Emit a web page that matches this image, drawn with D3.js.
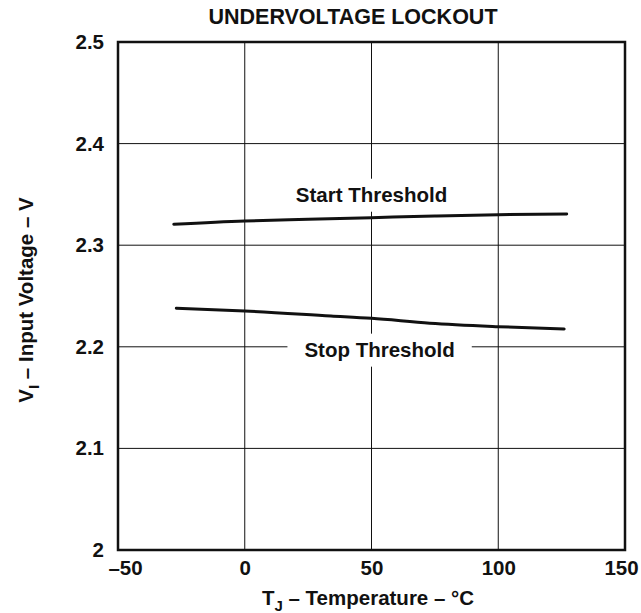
<!DOCTYPE html>
<html>
<head>
<meta charset="utf-8">
<script src="https://cdn.jsdelivr.net/npm/d3@7"></script>
<style>
  body { margin: 0; background: #fff; }
  text { font-family: Arial, "Liberation Sans", sans-serif; font-weight: bold; fill: #111; }
</style>
</head>
<body>
<div id="chart"></div>
<script>
// temperature (°C) and threshold voltage (V)
const startTemp = [-28, 0, 25, 50, 75, 100, 127];
const startVolt = [2.3206, 2.3238, 2.3255, 2.3271, 2.3287, 2.3300, 2.3307];
const stopTemp = [-27, 0, 34, 50, 73, 100, 126];
const stopVolt = [2.2379, 2.2352, 2.2303, 2.2280, 2.2232, 2.2198, 2.2175];

const xTicks = [-50, 0, 50, 100, 150];
const yTicks = [2, 2.1, 2.2, 2.3, 2.4, 2.5];

const margin = {top: 42, right: 16, bottom: 63, left: 118},
    width = 641 - margin.left - margin.right,
    height = 613 - margin.top - margin.bottom;

const FONT = "Arial, 'Liberation Sans', sans-serif";

const svg = d3.select("#chart")
    .append("svg")
    .attr("width", 641)
    .attr("height", 613)
    .append("g")
    .attr("transform", "translate(" + margin.left + "," + margin.top + ")");

const x = d3.scaleLinear().domain([-50, 150]).range([0, width]);
const y = d3.scaleLinear().domain([2, 2.5]).range([height, 0]);

// grid
svg.append("g")
    .selectAll("line")
    .data(xTicks.slice(1, -1))
    .enter().append("line")
    .attr("x1", d => x(d)).attr("x2", d => x(d))
    .attr("y1", 0).attr("y2", height)
    .attr("stroke", "#111").attr("stroke-width", 1);

svg.append("g")
    .selectAll("line")
    .data(yTicks.slice(1, -1))
    .enter().append("line")
    .attr("x1", 0).attr("x2", width)
    .attr("y1", d => y(d)).attr("y2", d => y(d))
    .attr("stroke", "#111").attr("stroke-width", 1);

// x axis labels (first one nudged right, last one left so it stays on the page)
svg.append("g")
    .attr("transform", "translate(0," + height + ")")
    .call(d3.axisBottom(x).tickValues(xTicks).tickSize(0).tickPadding(10)
        .tickFormat(d => d < 0 ? "\u2013" + Math.abs(d) : d))
    .call(g => g.select(".domain").remove())
    .selectAll("text")
    .attr("dx", d => d < 0 ? 7 : (d === 150 ? -4 : 0))
    .style("font-size", "20.5px")
    .style("font-family", FONT)
    .style("font-weight", "bold")
    .attr("fill", "#111");

// y axis labels
svg.append("g")
    .call(d3.axisLeft(y).tickValues(yTicks).tickSize(0).tickPadding(14)
        .tickFormat(d => d === 2 ? "2" : d3.format(".1f")(d)))
    .call(g => g.select(".domain").remove())
    .selectAll("text")
    .style("font-size", "20.5px")
    .style("font-family", FONT)
    .style("font-weight", "bold")
    .attr("fill", "#111");

const line = d3.line()
    .x(d => x(d[0]))
    .y(d => y(d[1]))
    .curve(d3.curveMonotoneX);

svg.append("path")
    .datum(startTemp.map((t, i) => [t, startVolt[i]]))
    .attr("d", line)
    .attr("fill", "none")
    .attr("stroke", "#111")
    .attr("stroke-width", 3)
    .attr("stroke-linecap", "round");

svg.append("path")
    .datum(stopTemp.map((t, i) => [t, stopVolt[i]]))
    .attr("d", line)
    .attr("fill", "none")
    .attr("stroke", "#111")
    .attr("stroke-width", 3)
    .attr("stroke-linecap", "round");

// curve labels, white box behind so gridlines break around them
function curveLabel(txt, t, v) {
    const g = svg.append("g");
    const tx = g.append("text")
        .attr("x", x(t))
        .attr("y", y(v))
        .attr("text-anchor", "middle")
        .style("font-size", "20.5px")
        .text(txt);
    const bb = tx.node().getBBox();
    g.insert("rect", "text")
        .attr("x", bb.x - 17)
        .attr("y", bb.y - 4)
        .attr("width", bb.width + 34)
        .attr("height", bb.height + 10)
        .attr("fill", "#fff");
}
curveLabel("Start Threshold", 50, 2.3428);
curveLabel("Stop Threshold", 53.2, 2.1903);

// frame
svg.append("rect")
    .attr("width", width)
    .attr("height", height)
    .attr("fill", "none")
    .attr("stroke", "#111")
    .attr("stroke-width", 2.5);

// title
svg.append("text")
    .attr("x", 353 - margin.left)
    .attr("y", -18)
    .attr("text-anchor", "middle")
    .style("font-size", "21.5px")
    .text("UNDERVOLTAGE LOCKOUT");

// x axis title
const xt = svg.append("text")
    .attr("x", 368 - margin.left)
    .attr("y", height + 55)
    .attr("text-anchor", "middle")
    .style("font-size", "20.5px");
xt.append("tspan").text("T");
xt.append("tspan").attr("dy", 6).style("font-size", "15px").text("J");
xt.append("tspan").attr("dy", -6).text(" \u2013 Temperature \u2013 \u00B0C");

// y axis title
const yt = svg.append("text")
    .attr("transform", "rotate(-90)")
    .attr("x", -(300 - margin.top))
    .attr("y", -85)
    .attr("text-anchor", "middle")
    .style("font-size", "20.5px");
yt.append("tspan").text("V");
yt.append("tspan").attr("dy", 6).style("font-size", "15px").text("I");
yt.append("tspan").attr("dy", -6).text(" \u2013 Input Voltage \u2013 V");
</script>
</body>
</html>
